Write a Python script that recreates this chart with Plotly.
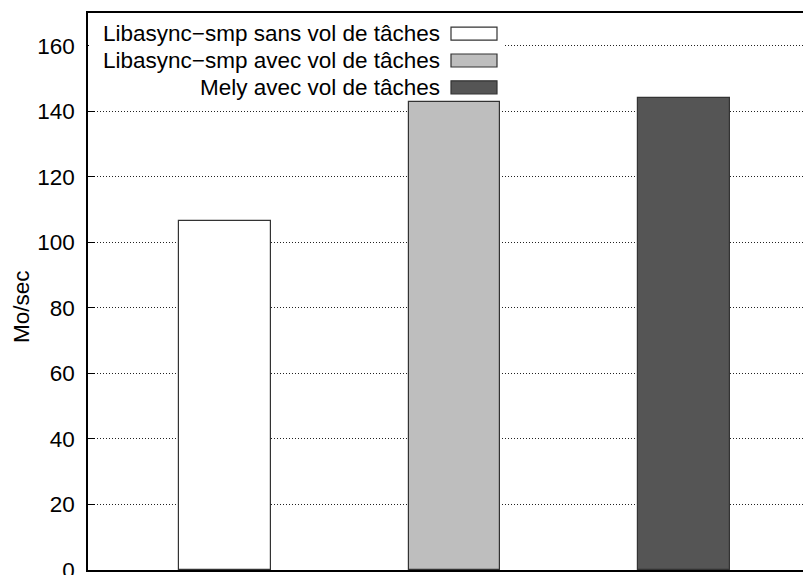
import plotly.graph_objects as go

series = ["Libasync\u2212smp sans vol de tâches",
          "Libasync\u2212smp avec vol de tâches",
          "Mely avec vol de tâches"]
positions = [1, 2, 3]
values = [106.4, 142.8, 144.1]
colors = ["#ffffff", "#bebebe", "#555555"]
y_ticks = [0, 20, 40, 60, 80, 100, 120, 140, 160]

# page body has an 8px margin, so the figure is shrunk and shifted to fit
OFF = 8
W, H = 811 - OFF, 575 - OFF
L, R, T, B = 88 - OFF, 0, 13 - OFF, 5
FONT = "Liberation Sans, Arial, Helvetica, sans-serif"
FS = 22.5


def px_x(x):
    # window pixel -> paper coordinate
    return (x - OFF - L) / (W - L - R)


def px_y(y):
    return (H - B - (y - OFF)) / (H - T - B)


fig = go.Figure()
fig.add_trace(go.Bar(
    x=positions,
    y=values,
    width=0.4,
    marker=dict(color=colors, line=dict(color="#333333", width=1.2)),
    showlegend=False,
))

# gnuplot-style key: label on the left, sample box on the right
shapes = [dict(type="rect", xref="paper", yref="paper", layer="above",
               x0=px_x(89), x1=px_x(505), y0=px_y(98), y1=px_y(14),
               fillcolor="white", line=dict(width=0))]
annotations = []
for i, (name, col) in enumerate(zip(series, colors)):
    yc = 33.7 + i * 26.8
    shapes.append(dict(type="rect", xref="paper", yref="paper", layer="above",
                       x0=px_x(451), x1=px_x(497), y0=px_y(yc + 6.5), y1=px_y(yc - 6.5),
                       fillcolor=col, line=dict(color="#333333", width=1.2)))
    annotations.append(dict(text=name, xref="paper", yref="paper",
                            x=px_x(442), y=px_y(yc), xanchor="right", yanchor="middle",
                            showarrow=False, font=dict(size=FS, color="black")))

annotations.append(dict(text="Mo/sec", xref="paper", yref="paper",
                        x=px_x(21), y=px_y(307), xanchor="center", yanchor="middle",
                        textangle=-90, showarrow=False,
                        font=dict(size=FS, color="black")))

fig.update_layout(
    width=W, height=H,
    margin=dict(l=L, r=R, t=T, b=B, autoexpand=False),
    plot_bgcolor="white", paper_bgcolor="white",
    font=dict(family=FONT, size=FS, color="black"),
    shapes=shapes,
    annotations=annotations,
    bargap=0,
)
fig.update_xaxes(
    range=[0.403, 3.553],
    showticklabels=False, ticks="",
    showgrid=False, zeroline=False,
    showline=True, linecolor="black", linewidth=2, mirror=True,
)
fig.update_yaxes(
    range=[0, 170],
    tickvals=y_ticks,
    ticks="inside", ticklen=7, tickcolor="black", tickwidth=1.2,
    ticklabelstandoff=7, ticklabeloverflow="allow",
    showgrid=True, gridcolor="#222222", griddash="1px,2px", gridwidth=1,
    zeroline=False,
    showline=True, linecolor="black", linewidth=1.5,
)

fig.write_html("out.html")
